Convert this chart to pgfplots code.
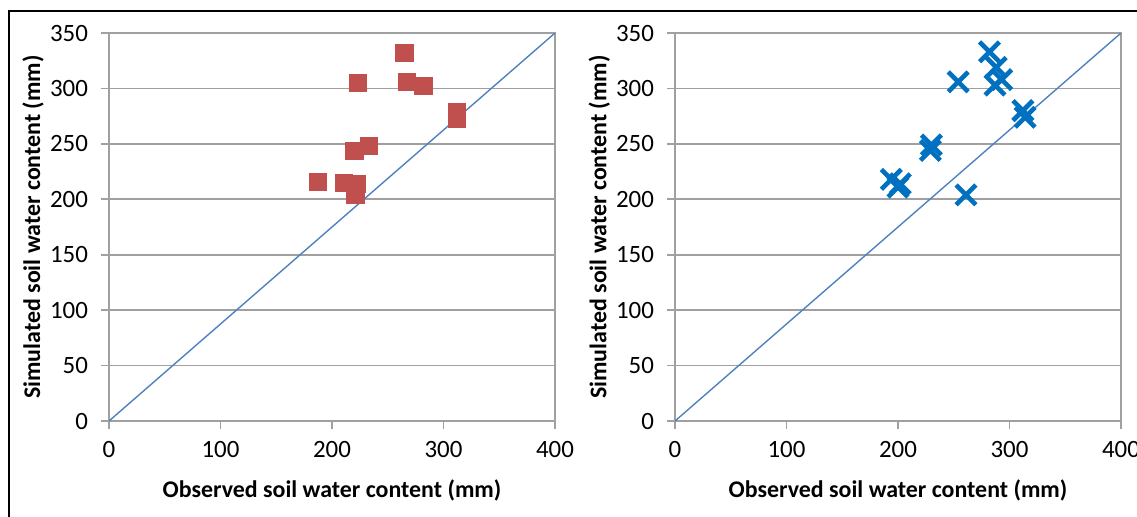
\documentclass[border=0pt]{standalone}
\usepackage{fontspec}
\setmainfont{Carlito}
\usepackage{pgfplots}
\pgfplotsset{compat=1.18}

\definecolor{gridgray}{HTML}{A0A0A0}
\definecolor{sqred}{HTML}{C0504D}
\definecolor{xblue}{HTML}{0070C0}
\definecolor{lineblue}{HTML}{4F81BD}

\pgfplotsset{
  swc/.style={
    scale only axis,
    width=223bp, height=194bp,
    anchor=south west,
    xmin=0, xmax=400, ymin=0, ymax=350,
    xtick={0,100,...,400}, ytick={0,50,...,350},
    ymajorgrids=true,
    grid style={gridgray, line width=0.8bp},
    axis line style={gridgray, line width=0.8bp},
    tick style={gridgray, line width=0.8bp},
    tick align=outside,
    major tick length=4bp,
    xtick pos=bottom, ytick pos=left,
    tick label style={font=\fontsize{12.5}{14}\selectfont},
    /pgf/number format/assume math mode=true,
    xticklabel style={yshift=-2.5bp},
    yticklabel style={xshift=-3bp},
    label style={font=\bfseries\fontsize{12}{14}\selectfont},
    xlabel={Observed soil water content (mm)},
    ylabel={Simulated soil water content (mm)},
    xlabel style={at={(axis description cs:0.5,-0.178)}, anchor=center},
    ylabel style={at={(axis description cs:-0.17,0.5)}, anchor=center},
  }
}

\begin{document}
\begin{tikzpicture}
\useasboundingbox (0,0) rectangle (568.5bp,-258.5bp);
\draw[black, line width=1bp] (4.5bp,-258.5bp) -- (4.5bp,-5.5bp) -- (568.5bp,-5.5bp);

\begin{axis}[swc, at={(54.5bp,-210.5bp)}]
\addplot[lineblue, line width=0.7bp] coordinates {(0,0) (400,350)};
\addplot[only marks, mark=square*, mark size=4.3bp, sqred, mark options={fill=sqred, draw=sqred}]
coordinates {
  (265,332) (223,305) (267,306) (282,302) (312,279) (312,273)
  (233,248) (220,244) (187,216) (211,215) (222,214) (221,204)
};
\end{axis}

\begin{axis}[swc, at={(337.5bp,-210.5bp)}]
\addplot[lineblue, line width=0.7bp] coordinates {(0,0) (400,350)};
\addplot[only marks, mark=x, mark size=7bp, xblue, mark options={line width=2.3bp}]
coordinates {
  (282,333) (254,306) (288,319) (293,308) (287,303) (312,280) (314,274)
  (230,249) (229,244) (194,218) (202,214) (200,211) (261,204)
};
\end{axis}
\end{tikzpicture}
\end{document}
